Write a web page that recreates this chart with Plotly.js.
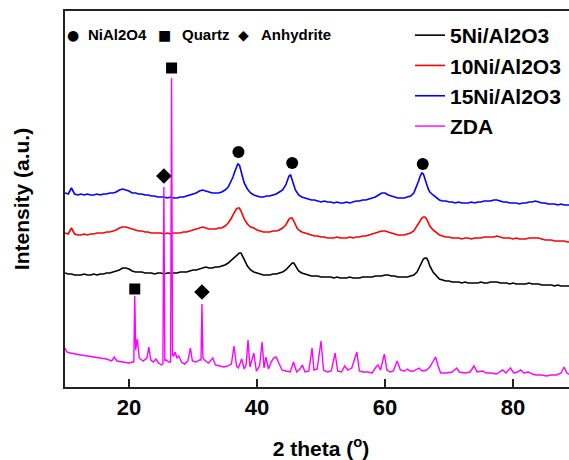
<!DOCTYPE html>
<html><head><meta charset="utf-8">
<script src="https://cdn.plot.ly/plotly-3.0.1.min.js"></script>
<style>html,body{margin:0;padding:0;overflow:hidden;background:#fff}#chart{width:585px;height:460px}</style>
</head><body><div id="chart"></div>
<script>
// 2θ sampling for the Ni/Al2O3 patterns
const twoTheta = [
10,10.5,11,11.5,12,12.5,13,13.5,14,14.5,
15,15.5,16,16.5,17,17.5,18,18.5,19,19.5,
20,20.5,21,21.5,22,22.5,23,23.5,24,24.5,
25,25.5,26,26.5,27,27.5,28,28.5,29,29.5,
30,30.5,31,31.5,32,32.5,33,33.5,34,34.5,
35,35.5,36,36.25,36.5,36.75,37,37.25,37.5,37.75,38,
38.5,39,39.5,40,40.5,41,41.5,42,42.5,43,43.5,44,44.5,
44.75,45,45.25,45.5,45.75,46,46.25,46.5,
47,47.5,48,48.5,49,49.5,50,50.5,51,51.5,
52,52.5,53,53.5,54,54.5,55,55.5,56,56.5,
57,57.5,58,58.5,59,59.5,60,60.5,61,61.5,
62,62.5,63,63.5,64,64.5,
65,65.25,65.5,65.75,66,66.25,66.5,66.75,67,
67.5,68,68.5,69,69.5,70,70.5,71,71.5,72,
72.5,73,73.5,74,74.5,75,75.5,76,76.5,77,
77.5,78,78.5,79,79.5,80,80.5,81,81.5,82,
82.5,83,83.5,84,84.5,85,85.5,86,86.5,87,
87.5,88,88.5,89];

const int15Ni = [
194,193,199,193,192,193,192,193,192,192,
193,192,193,193,194,194,195,197,198,197,
196,194,194,193,193,192,192,191,191,190,
190,190,189,190,189,189,190,190,191,192,
193,194,196,197,196,195,194,194,194,195,
197,200,206,210,215,220,223,222,217,210,204,
198,194,192,191,190,190,191,191,192,193,195,197,202,
207,211,212,208,202,197,194,192,
190,189,188,187,187,186,185,186,185,185,
184,185,184,184,185,184,185,186,186,187,
187,188,189,190,192,194,194,192,191,190,
189,189,189,190,191,194,
201,206,211,214,213,209,203,198,195,
192,189,187,186,186,185,185,184,185,184,
184,184,185,184,185,185,186,186,186,187,
187,186,185,185,184,184,184,183,184,184,
185,185,186,185,184,184,183,183,183,182,
183,182,182,182];

const int10Ni = [
154,153,159,153,152,152,153,152,153,153,
154,154,154,155,155,156,157,159,160,160,
159,158,157,156,156,155,155,154,154,154,
154,153,154,153,154,154,154,155,155,156,
157,158,159,160,159,158,158,158,159,159,
161,164,169,172,175,178,179,179,176,172,168,
163,160,159,157,156,155,155,155,156,156,157,159,162,
165,168,169,169,166,162,159,157,
155,154,153,152,151,151,150,150,149,149,
149,150,149,149,149,150,149,150,150,151,
151,152,153,154,155,156,156,155,154,153,
152,152,152,153,154,156,
161,164,167,169,170,170,168,164,161,
157,154,152,151,150,150,149,149,149,148,
149,149,148,149,149,149,150,150,150,150,
151,150,149,149,149,148,149,148,148,148,
149,149,149,149,148,147,147,147,146,146,
146,146,145,145];

const int5Ni = [
114,113,113,112,112,112,113,112,112,113,
112,113,113,114,114,115,116,117,119,119,
118,116,115,115,115,114,114,114,113,114,
114,113,114,114,114,114,115,115,115,116,
117,117,118,119,120,119,119,120,120,121,
122,124,127,128,130,131,133,134,134,131,127,
121,117,115,114,113,112,112,112,113,113,114,115,117,
119,121,122,124,124,121,118,116,
114,113,112,111,111,111,110,110,110,110,
109,110,109,109,109,110,109,109,109,110,
110,110,110,111,111,111,112,112,111,111,
110,110,110,110,111,112,
115,118,122,125,128,129,129,126,121,
115,111,108,107,106,106,105,105,105,104,
105,104,104,104,104,105,104,104,105,105,
105,104,104,104,103,104,103,103,103,103,
104,103,103,103,102,102,102,102,101,102,
101,101,101,101];

// ZDA pattern
const twoThetaZDA = [
10,10.3,10.8,11.5,12.5,13.5,14.5,15.5,16.5,17.3,17.7,18.1,19,20,20.5,20.75,20.9,21.05,21.3,21.6,
22.2,22.8,23.1,23.4,23.8,24.2,24.6,25.1,25.3,25.45,25.6,25.8,26.2,26.5,26.65,26.8,27.0,27.2,27.5,27.8,
28.2,28.7,29.2,29.6,29.9,30.5,31.0,31.25,31.4,31.55,31.8,32.4,33.1,33.5,34.2,34.8,35.4,36.0,36.4,36.8,
37.1,37.6,38.0,38.3,38.6,38.9,39.5,39.9,40.4,40.8,41.1,41.4,41.8,42.2,42.6,43.0,43.4,43.9,44.5,45.2,
45.7,46.2,46.7,47.1,47.5,48.1,48.6,48.9,49.4,50.0,50.4,51.0,51.6,52.2,52.6,53.2,53.7,54.2,54.8,55.6,
56.0,56.6,57.3,58.0,58.6,58.9,59.3,59.9,60.3,60.8,61.3,61.9,62.4,63.0,63.5,63.9,64.5,65.3,65.8,66.5,
67.0,67.5,67.9,68.3,68.7,69.5,70.5,71.2,71.6,72.5,73.3,73.9,74.4,75.3,75.8,76.6,77.4,78.4,78.9,79.6,
80.1,80.7,81.2,81.7,82.4,83.0,83.6,84.5,85.2,86.0,86.8,87.5,88.0,88.4,89.0];
const intZDA = [
39,35,34,33,32,31,30,29,28,26,30,26,25,24,25,25,91,37,48,29,
26,29,40,27,25,28,24,22,23,200,26,27,25,25,309,32,31,35,29,31,
25,23,26,39,26,25,27,27,83,29,27,24,29,22,21,20,21,23,41,21,
19,28,18,22,47,20,34,16,21,45,19,30,18,25,29,30,24,17,16,15,
25,15,18,22,15,16,39,17,18,46,17,15,16,34,16,15,21,17,19,35,
16,15,15,14,20,22,17,33,17,15,16,26,17,16,18,16,16,19,16,17,
20,25,30,21,14,14,15,19,15,14,15,21,15,16,14,14,13,17,14,19,
14,15,17,14,15,13,12,12,11,12,12,14,20,14,12];

// phase markers
const nickelAluminateX = [37.1, 45.5, 65.9];
const nickelAluminateY = [235, 224, 223];
const quartzX = [20.9, 26.65];
const quartzY = [98, 319];
const anhydriteX = [25.45, 31.4];
const anhydriteY = [211, 95];

const seriesNames = ['5Ni/Al2O3', '10Ni/Al2O3', '15Ni/Al2O3', 'ZDA'];
const seriesColors = ['#000000', '#ff0000', '#0000ff', '#ff00ff'];

const FONT = 'Arial, "Liberation Sans", Helvetica, sans-serif';

const traces = [
  {x: twoTheta, y: int5Ni, name: seriesNames[0], type: 'scatter', mode: 'lines', line: {color: seriesColors[0], width: 1.6}},
  {x: twoTheta, y: int10Ni, name: seriesNames[1], type: 'scatter', mode: 'lines', line: {color: seriesColors[1], width: 1.6}},
  {x: twoTheta, y: int15Ni, name: seriesNames[2], type: 'scatter', mode: 'lines', line: {color: seriesColors[2], width: 1.6}},
  {x: twoThetaZDA, y: intZDA, name: seriesNames[3], type: 'scatter', mode: 'lines', line: {color: seriesColors[3], width: 1.4}},
  {x: nickelAluminateX, y: nickelAluminateY, type: 'scatter', mode: 'markers', showlegend: false, hoverinfo: 'skip',
   marker: {symbol: 'circle', size: 12, color: '#000'}},
  {x: quartzX, y: quartzY, type: 'scatter', mode: 'markers', showlegend: false, hoverinfo: 'skip',
   marker: {symbol: 'square', size: 11, color: '#000'}},
  {x: anhydriteX, y: anhydriteY, type: 'scatter', mode: 'markers', showlegend: false, hoverinfo: 'skip',
   marker: {symbol: 'diamond', size: 12, color: '#000'}}
];

const PW = 512, PL = 65;
function px(p) { return (p - PL) / PW; }
const yTop = (387 - 35) / 376;
const anno = [
  {t: '\u25CF', x: 73, c: true, size: 14},
  {t: 'NiAl2O4', x: 86},
  {t: '\u25A0', x: 164.5, c: true, size: 14},
  {t: 'Quartz', x: 180},
  {t: '\u25C6', x: 243.5, c: true, size: 14},
  {t: 'Anhydrite', x: 259}
].map(a => ({
  text: a.t, xref: 'paper', yref: 'paper', x: px(a.x), y: yTop,
  xanchor: a.c ? 'center' : 'left', yanchor: 'middle', showarrow: false,
  font: {family: a.c ? '"DejaVu Sans", sans-serif' : FONT, size: a.size || 15, weight: 'bold', color: '#000'}
}));

const layout = {
  width: 585, height: 460,
  margin: {l: 65, r: 8, t: 11, b: 73},
  paper_bgcolor: '#fff', plot_bgcolor: '#fff',
  showlegend: true,
  legend: {x: px(410), y: (387 - 15) / 376, xanchor: 'left', yanchor: 'top',
           bgcolor: 'rgba(0,0,0,0)', borderwidth: 0,
           font: {family: FONT, size: 21, weight: 'bold', color: '#000'}},
  xaxis: {
    range: [10, 90], tickvals: [20, 40, 60, 80], ticktext: ['20', '40', '60', '80'],
    ticks: 'inside', ticklen: 8, tickwidth: 2, tickcolor: '#222',
    showline: true, linewidth: 2, linecolor: '#222', mirror: true,
    showgrid: false, zeroline: false,
    tickfont: {family: FONT, size: 22, weight: 'bold', color: '#000'},
    title: {text: '2 theta (<sup>o</sup>)', standoff: 23, font: {family: FONT, size: 21, weight: 'bold', color: '#000'}}
  },
  yaxis: {
    range: [0, 376], showticklabels: false, ticks: '',
    showline: true, linewidth: 2, linecolor: '#222', mirror: true,
    showgrid: false, zeroline: false,
    title: {text: 'Intensity (a.u.)', standoff: 28, font: {family: FONT, size: 21, weight: 'bold', color: '#000'}}
  },
  annotations: anno
};

Plotly.newPlot('chart', traces, layout, {staticPlot: true, displayModeBar: false});
</script>
</body></html>
